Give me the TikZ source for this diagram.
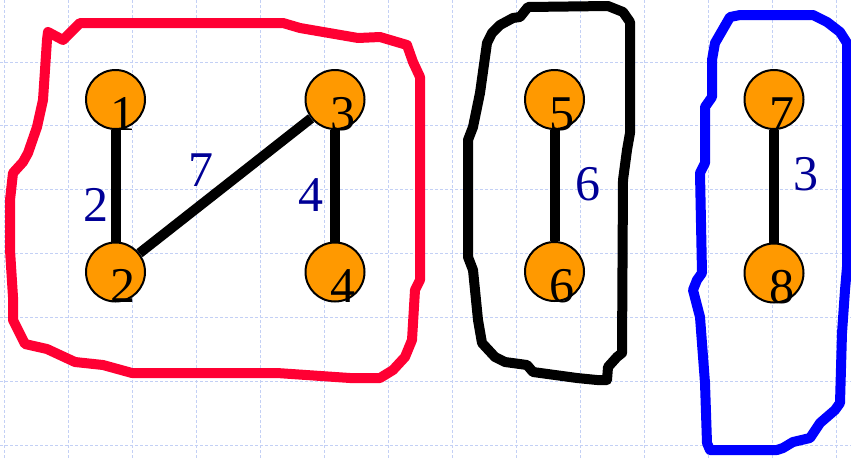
\documentclass[tikz,border=0pt]{standalone}
\usepackage{fontspec}
\setmainfont{Liberation Serif}

\definecolor{vorange}{RGB}{255,153,0}
\definecolor{wnavy}{RGB}{0,0,150}
\definecolor{loopred}{RGB}{255,0,51}
\definecolor{loopblue}{RGB}{0,0,255}
\definecolor{gridblue}{RGB}{195,208,245}

\begin{document}
\begin{tikzpicture}[x=1pt, y=-1pt, % y grows downwards, one unit is one pixel
  vertex/.style={shape=circle, draw=black, line width=2pt, fill=vorange, minimum size=59pt, inner sep=0pt,
    label={[anchor=base west, xshift=-5pt, inner sep=0pt, outer sep=0pt, font=\fontsize{50}{50}\selectfont]south:#1}},
  weight/.style={text=wnavy, font=\fontsize{50}{50}\selectfont, inner sep=3pt, outer sep=0pt},
  link/.style={line width=10pt},
  hand/.style={line width=10pt, line join=round, line cap=round},
  gridline/.style={draw=gridblue, line width=0.8pt, dash pattern=on 3pt off 2pt}]
  \useasboundingbox (0,0) rectangle (851,459);

  % squared paper
  \foreach \gx in {4,68,...,836} \draw[gridline] (\gx,0) -- (\gx,459);
  \foreach \gy in {62,125.5,189,253,317,381,445} \draw[gridline] (0,\gy) -- (851,\gy);

  % the vertices
  \node[vertex=1] (n1) at (115.5,99.5) {};
  \node[vertex=2] (n2) at (115.5,272) {};
  \node[vertex=3] (n3) at (335,99.5) {};
  \node[vertex=4] (n4) at (335,272) {};
  \node[vertex=5] (n5) at (554.5,99.5) {};
  \node[vertex=6] (n6) at (554.5,271.5) {};
  \node[vertex=7] (n7) at (774,99.5) {};
  \node[vertex=8] (n8) at (774,273) {};

  % weighted edges
  \path [link] (n1) edge node[weight, pos=0.67, left=4pt] {2} (n2);
  \path [link] (n2) edge node[weight, pos=0.46, above left=2pt] {7} (n3);
  \path [link] (n3) edge node[weight, pos=0.58, left=9pt] {4} (n4);
  \path [link] (n5) edge node[weight, pos=0.49, right=18pt] {6} (n6);
  \path [link] (n7) edge node[weight, pos=0.39, right=16pt] {3} (n8);

  % hand drawn components
  \draw[hand, draw=loopred] (48,32) -- (63,40) -- (80,23) -- (283,23) -- (300,28) -- (358,38) -- (380,37)
    -- (407,45) -- (413,62) -- (420,77) -- (420,280) -- (415,290) -- (412,340) -- (405,357) -- (393,370)
    -- (380,378) -- (350,378) -- (277,373) -- (132,373) -- (103,365) -- (75,362) -- (47,349) -- (25,344)
    -- (13,320) -- (13,297) -- (10,250) -- (10,200) -- (13,173) -- (23,162) -- (28,153) -- (37,127)
    -- (43,100) -- (47,40) -- cycle;
  \draw[hand, draw=black] (528,7) -- (608,6) -- (623,12) -- (630,22) -- (630,133) -- (627,150) -- (623,180)
    -- (622,353) -- (617,357) -- (608,367) -- (607,380) -- (597,380) -- (577,378) -- (533,372) -- (527,365)
    -- (505,362) -- (495,357) -- (482,343) -- (478,320) -- (473,270) -- (468,257) -- (468,140) -- (473,127)
    -- (480,93) -- (487,43) -- (492,33) -- (500,25) -- (513,18) -- (520,17) -- cycle;
  \draw[hand, draw=loopblue] (730,17) -- (740,15) -- (813,15) -- (827,22) -- (840,32) -- (847,43) -- (847,267)
    -- (845,290) -- (842,333) -- (840,403) -- (835,410) -- (820,423) -- (810,438) -- (793,442) -- (783,448)
    -- (777,450) -- (710,450) -- (707,443) -- (705,383) -- (700,317) -- (693,290) -- (697,280) -- (702,273)
    -- (700,173) -- (705,163) -- (705,107) -- (712,97) -- (712,60) -- (715,43) -- cycle;
\end{tikzpicture}
\end{document}
